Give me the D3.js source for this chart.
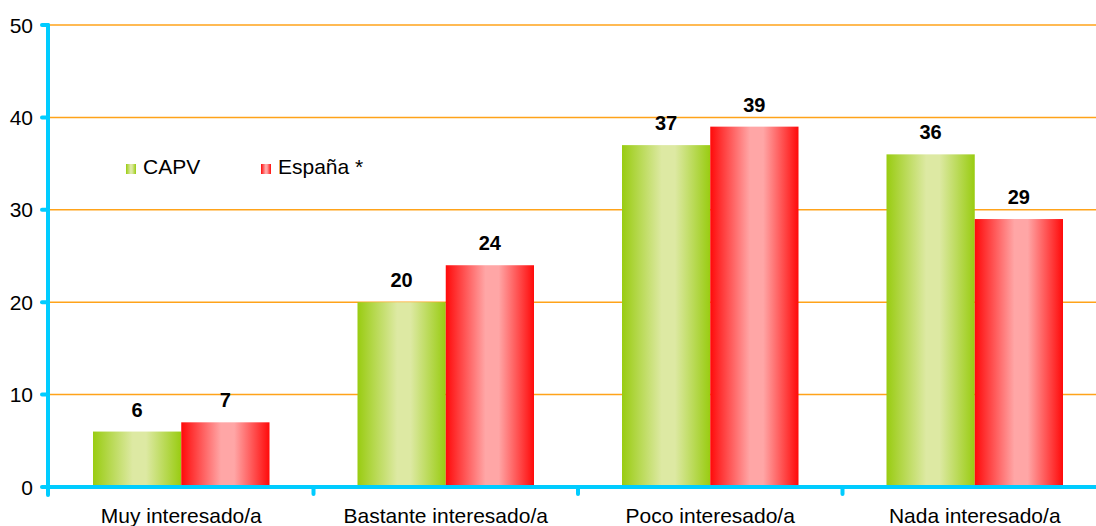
<!DOCTYPE html>
<html>
<head>
<meta charset="utf-8">
<script src="https://cdn.jsdelivr.net/npm/d3@7"></script>
<style>
  body { margin: 0; background: #fff; }
  svg { display: block; font-family: Arial, "Liberation Sans", sans-serif; }
</style>
</head>
<body>
<div id="chart"></div>
<script>
// categories and values
var categories = ["Muy interesado/a", "Bastante interesado/a", "Poco interesado/a", "Nada interesado/a"];
var capv = [6, 20, 37, 36];
var espana = [7, 24, 39, 29];
var seriesNames = ["CAPV", "España *"];
var yTicks = [0, 10, 20, 30, 40, 50];

var W = 1096, H = 526;
var svg = d3.select("#chart").append("svg")
    .attr("width", W)
    .attr("height", H);

var defs = svg.append("defs");
//bar gradients: dark edge, light middle, dark edge
var makeGrad = function (id, edge, mid) {
    var g = defs.append("linearGradient").attr("id", id)
        .attr("x1", "0%").attr("x2", "100%").attr("y1", "0%").attr("y2", "0%");
    g.append("stop").attr("offset", "0%").attr("stop-color", edge);
    g.append("stop").attr("offset", "45%").attr("stop-color", mid);
    g.append("stop").attr("offset", "60%").attr("stop-color", mid);
    g.append("stop").attr("offset", "100%").attr("stop-color", edge);
};
makeGrad("gGreen", "#99cc11", "#dde9a3");
makeGrad("gRed", "#ff0a0a", "#ffa6a6");

var x0 = d3.scaleBand().domain(categories).range([49, 1107]);
var x1 = d3.scaleBand().domain([0, 1]).range([44, x0.bandwidth() - 44]);
var y = d3.scaleLinear().domain([0, 50]).range([487, 25]);

//gridlines
svg.append("g").selectAll("line")
    .data(yTicks.filter(function (d) { return d > 0; }))
    .enter().append("line")
    .attr("x1", 49).attr("x2", W)
    .attr("y1", function (d) { return y(d); })
    .attr("y2", function (d) { return y(d); })
    .attr("stroke", "#ffa31a")
    .attr("stroke-width", 1.5);

//bars
var data = categories.map(function (c, i) { return {cat: c, vals: [capv[i], espana[i]]}; });
var grads = ["url(#gGreen)", "url(#gRed)"];
var groups = svg.append("g").selectAll("g")
    .data(data).enter().append("g")
    .attr("transform", function (d) { return "translate(" + x0(d.cat) + ",0)"; });

groups.selectAll("rect")
    .data(function (d) { return d.vals; })
    .enter().append("rect")
    .attr("x", function (d, i) { return x1(i); })
    .attr("width", x1.bandwidth())
    .attr("y", function (d) { return y(d); })
    .attr("height", function (d) { return y(0) - y(d); })
    .attr("fill", function (d, i) { return grads[i]; });

groups.selectAll("text")
    .data(function (d) { return d.vals; })
    .enter().append("text")
    .attr("x", function (d, i) { return x1(i) + x1.bandwidth() / 2; })
    .attr("y", function (d) { return y(d) - 15; })
    .attr("text-anchor", "middle")
    .attr("font-size", "20px")
    .attr("font-weight", "bold")
    .text(function (d) { return d; });

//axes
var axisColor = "#00ccff";
var yAxis = svg.append("g");
yAxis.append("line")
    .attr("x1", 48).attr("x2", 48)
    .attr("y1", y(50)).attr("y2", y(0) + 8)
    .attr("stroke", axisColor).attr("stroke-width", 4).attr("stroke-linecap", "round");
yAxis.selectAll("line.tk")
    .data(yTicks).enter().append("line")
    .attr("class", "tk")
    .attr("x1", 42).attr("x2", 48)
    .attr("y1", function (d) { return y(d); })
    .attr("y2", function (d) { return y(d); })
    .attr("stroke", axisColor).attr("stroke-width", 4).attr("stroke-linecap", "round");
yAxis.selectAll("text")
    .data(yTicks).enter().append("text")
    .attr("x", 33)
    .attr("y", function (d) { return y(d) + 7.5; })
    .attr("text-anchor", "end")
    .attr("font-size", "21px")
    .text(function (d) { return d; });

var xAxis = svg.append("g");
xAxis.append("line")
    .attr("x1", 48).attr("x2", W)
    .attr("y1", y(0)).attr("y2", y(0))
    .attr("stroke", axisColor).attr("stroke-width", 4);
xAxis.selectAll("line.tk")
    .data(categories.slice(1)).enter().append("line")
    .attr("class", "tk")
    .attr("x1", function (d) { return x0(d); })
    .attr("x2", function (d) { return x0(d); })
    .attr("y1", y(0)).attr("y2", y(0) + 7)
    .attr("stroke", axisColor).attr("stroke-width", 4).attr("stroke-linecap", "round");
xAxis.selectAll("text")
    .data(categories).enter().append("text")
    .attr("x", function (d) { return x0(d) + x0.bandwidth() / 2; })
    .attr("y", 523)
    .attr("text-anchor", "middle")
    .attr("font-size", "21px")
    .text(function (d) { return d; });

//legend
var legend = svg.append("g");
var legX = [126, 261];
seriesNames.forEach(function (name, i) {
    legend.append("rect")
        .attr("x", legX[i]).attr("y", 164)
        .attr("width", 10).attr("height", 10)
        .attr("fill", grads[i]);
    legend.append("text")
        .attr("x", legX[i] + 17).attr("y", 174)
        .attr("font-size", "21px")
        .text(name);
});
</script>
</body>
</html>
